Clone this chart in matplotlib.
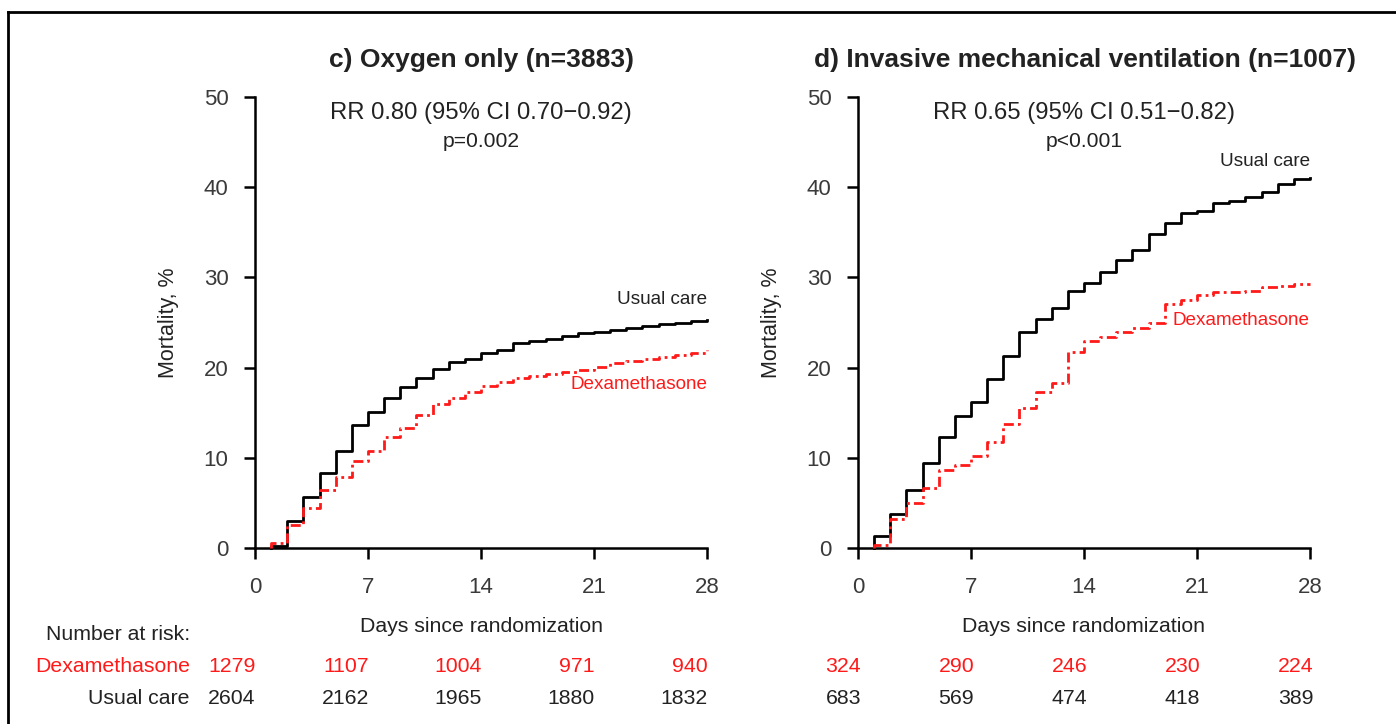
import matplotlib
matplotlib.use("Agg")
import matplotlib.pyplot as plt
import matplotlib.transforms as mtransforms
from matplotlib.lines import Line2D

plt.rcParams['font.family'] = ['Liberation Sans', 'DejaVu Sans']

days = list(range(0, 29))

# Panel c) Oxygen only
oxy_usual = [0.0, 0.2, 3.0, 5.7, 8.3, 10.8, 13.6, 15.1, 16.6, 17.8, 18.9, 19.8, 20.6, 20.9,
             21.6, 22.0, 22.7, 22.9, 23.2, 23.5, 23.8, 24.0, 24.2, 24.4, 24.6, 24.85, 25.0, 25.2, 25.3]
oxy_dexa = [0.0, 0.6, 2.5, 4.4, 6.4, 7.9, 9.6, 10.7, 12.3, 13.3, 14.8, 16.0, 16.6, 17.3,
            18.0, 18.4, 18.9, 19.1, 19.3, 19.5, 19.7, 20.1, 20.5, 20.7, 21.0, 21.2, 21.35, 21.6, 21.9]

# Panel d) Invasive mechanical ventilation
imv_usual = [0.0, 1.3, 3.8, 6.4, 9.4, 12.3, 14.6, 16.2, 18.7, 21.3, 23.9, 25.4, 26.6, 28.5,
             29.4, 30.6, 31.9, 33.0, 34.8, 36.0, 37.1, 37.4, 38.3, 38.5, 38.9, 39.5, 40.4, 40.9, 41.0]
imv_dexa = [0.0, 0.3, 3.2, 5.0, 6.7, 8.7, 9.2, 10.2, 11.7, 13.8, 15.5, 17.3, 18.3, 21.7,
            23.0, 23.4, 23.9, 24.4, 24.9, 27.1, 27.5, 28.1, 28.4, 28.4, 28.5, 28.9, 29.1, 29.3, 29.3]

risk_days = [0, 7, 14, 21, 28]
oxy_risk_dexa = ['1279', '1107', '1004', '971', '940']
oxy_risk_usual = ['2604', '2162', '1965', '1880', '1832']
imv_risk_dexa = ['324', '290', '246', '230', '224']
imv_risk_usual = ['683', '569', '474', '418', '389']

titles = ['c) Oxygen only (n=3883)', 'd) Invasive mechanical ventilation (n=1007)']
rr_texts = ['RR 0.80 (95% CI 0.70\u22120.92)', 'RR 0.65 (95% CI 0.51\u22120.82)']
p_texts = ['p=0.002', 'p<0.001']

W, H = 1396, 724
fig = plt.figure(figsize=(W / 100, H / 100), dpi=100)

TXT = '#222222'
TICK = '#3a3a3a'
RED = '#ff1a1a'

# frame border
fig.add_artist(Line2D([8 / W, 1.0], [1 - 12 / H, 1 - 12 / H], color='black', lw=2,
                      transform=fig.transFigure))
fig.add_artist(Line2D([8 / W, 8 / W], [1 - 12 / H, 0.0], color='black', lw=2,
                      transform=fig.transFigure))


def px_axes(x0, x1, y0, y1):
    return [x0 / W, 1 - y1 / H, (x1 - x0) / W, (y1 - y0) / H]


panels = [
    dict(rect=px_axes(255, 707, 97, 548), usual=oxy_usual, dexa=oxy_dexa,
         rd=oxy_risk_dexa, ru=oxy_risk_usual, off=0.05,
         usual_lab_y=27.5, dexa_lab_y=18.1),
    dict(rect=px_axes(858, 1310, 97, 548), usual=imv_usual, dexa=imv_dexa,
         rd=imv_risk_dexa, ru=imv_risk_usual, off=0.2,
         usual_lab_y=42.9, dexa_lab_y=25.2),
]

FS_RISK = 15.3

for i, p in enumerate(panels):
    ax = fig.add_axes(p['rect'])
    xs = [days[1]] + days[1:]
    ax.step(xs, [0.0] + p['usual'][1:], where='post', color='black', lw=2, clip_on=False,
            zorder=3)
    ax.step(xs, [0.0] + p['dexa'][1:], where='post', color=RED, lw=2, clip_on=False,
            zorder=4, dashes=(3.6, 1.5, 1.0, 1.5))
    ax.set_xlim(0, 28)
    ax.set_ylim(0, 50)
    ax.set_xticks(risk_days)
    ax.set_yticks([0, 10, 20, 30, 40, 50])
    for s in ['top', 'right']:
        ax.spines[s].set_visible(False)
    for s in ['left', 'bottom']:
        ax.spines[s].set_linewidth(1.8)
    ax.tick_params(direction='out', length=8, width=1.8, labelsize=16, colors='black',
                   labelcolor=TICK)
    ax.tick_params(axis='y', pad=11)
    ax.tick_params(axis='x', pad=13)
    ax.text(-0.192, 0.5, 'Mortality, %', transform=ax.transAxes, rotation=90,
            ha='center', va='center', fontsize=15.5, color=TXT)
    ax.text(0.5, (548 - 626) / 451, 'Days since randomization', transform=ax.transAxes,
            ha='center', va='center', fontsize=15.3, color=TXT)
    ax.text(14, 48.23, rr_texts[i], ha='center', va='center', fontsize=17.2, color=TXT)
    ax.text(14, 45.1, p_texts[i], ha='center', va='center', fontsize=15.2, color=TXT)
    ax.text(28, p['usual_lab_y'], 'Usual care', ha='right', va='center', fontsize=13.6,
            color=TXT)
    ax.text(28, p['dexa_lab_y'], 'Dexamethasone', ha='right', va='center', fontsize=13.6,
            color=RED)
    # numbers at risk
    bt = mtransforms.blended_transform_factory(ax.transData, fig.transFigure)
    for d, sd, su in zip(risk_days, p['rd'], p['ru']):
        xx = d + p['off']
        ax.text(xx, 1 - 666 / H, sd, transform=bt, ha='right', va='center',
                fontsize=FS_RISK, color=RED)
        ax.text(xx, 1 - 698 / H, su, transform=bt, ha='right', va='center',
                fontsize=FS_RISK, color=TXT)

fig.text(482 / W, 1 - 60 / H, titles[0], ha='center', va='center', fontsize=19,
         fontweight='bold', color=TXT)
fig.text(1085 / W, 1 - 60 / H, titles[1], ha='center', va='center', fontsize=19,
         fontweight='bold', color=TXT)

fig.text(190 / W, 1 - 634 / H, 'Number at risk:', ha='right', va='center',
         fontsize=FS_RISK, color=TXT)
fig.text(190 / W, 1 - 666 / H, 'Dexamethasone', ha='right', va='center',
         fontsize=FS_RISK, color=RED)
fig.text(190 / W, 1 - 698 / H, 'Usual care', ha='right', va='center',
         fontsize=FS_RISK, color=TXT)

fig.savefig('out.png', dpi=100, facecolor='white')
